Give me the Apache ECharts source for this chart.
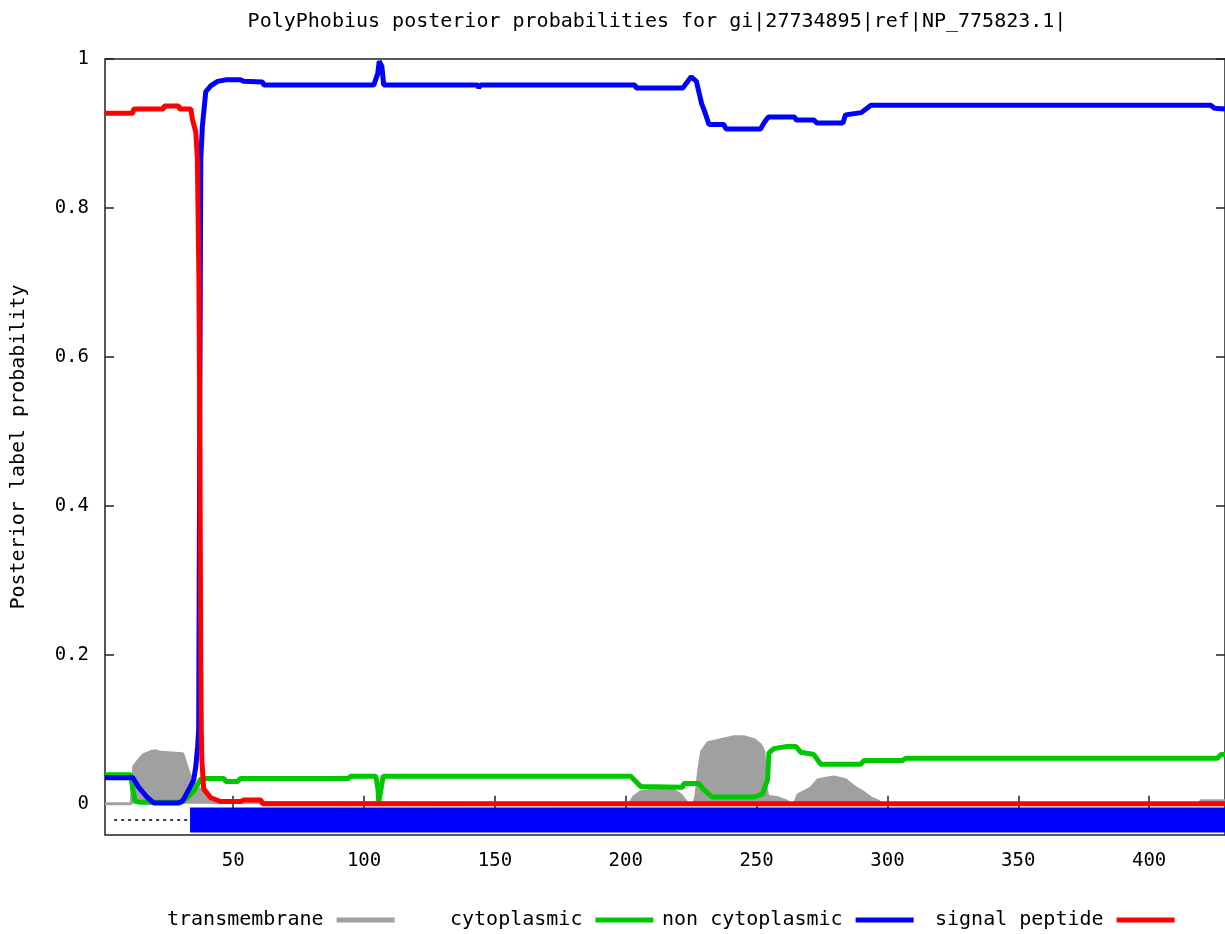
<!DOCTYPE html>
<html>
<head>
<meta charset="utf-8">
<script src="https://cdn.jsdelivr.net/npm/echarts@6/dist/echarts.min.js"></script>
<style>html,body{margin:0;padding:0;background:#fff;}#c{width:1225px;height:934px;}</style>
</head>
<body>
<div id="c"></div>
<script>
const titleText = 'PolyPhobius posterior probabilities for gi|27734895|ref|NP_775823.1|';
const seqMin = 1, seqMax = 429;
const xTicks = [50, 100, 150, 200, 250, 300, 350, 400];
const yTicks = [0, 0.2, 0.4, 0.6, 0.8, 1];
const legendNames = ['transmembrane', 'cytoplasmic', 'non cytoplasmic', 'signal peptide'];

const transmembrane = [[1,0],[11,0],[12,0.05],[13.9,0.059],[15.8,0.066],[18.5,0.07],[20.4,0.071],[22.3,0.069],[30.7,0.067],[31.8,0.055],[33,0.042],[34.5,0.03],[36.4,0.022],[39.5,0.012],[41.4,0.002],[42,0],
  [201,0],[202,0.003],[203,0.009],[205.7,0.016],[210,0.018],[218.4,0.018],[221,0.012],[223,0.003],[223.7,0],[226,0],[226.8,0.01],[227.9,0.045],[229,0.07],[231.4,0.082],[236.3,0.086],[241.3,0.09],[245.1,0.09],[249,0.086],[251.6,0.079],[252.8,0.07],[253.5,0.023],[254.3,0.01],[258,0.008],[261.9,0.003],[262.5,0],[264.5,0],[265.8,0.012],[270.7,0.021],[273.4,0.032],[276,0.034],[279.5,0.036],[282,0.034],[284.1,0.032],[287.2,0.023],[290.5,0.016],[293.6,0.008],[296.7,0.003],[297.5,0],[419.5,0],[419.8,0.004],[429,0.004]];

const cytoplasmic = [[1,0.039],[10.8,0.039],[11.6,0.02],[12.5,0.004],[14,0.002],[30,0.002],[31,0.004],[33,0.01],[34.9,0.017],[36.4,0.026],[37.6,0.033],[38.7,0.034],[46.4,0.034],[47.1,0.03],[51.7,0.03],[52.9,0.034],[94.1,0.034],[94.9,0.037],[104.5,0.037],[105.3,0.02],[105.6,0.003],[106.2,0.003],[106.5,0.02],[107.3,0.037],[201.9,0.037],[205.7,0.023],[221.7,0.022],[222.2,0.027],[227.9,0.027],[229.8,0.019],[233.1,0.009],[248.9,0.009],[252.2,0.013],[254.2,0.032],[254.7,0.068],[256.6,0.074],[261.8,0.077],[265,0.077],[266.9,0.069],[271.9,0.066],[274.5,0.053],[289.8,0.053],[291,0.058],[305.8,0.058],[307,0.061],[426.1,0.061],[427.4,0.066],[429,0.066]];

const nonCytoplasmic = [[1,0.035],[11.6,0.035],[13.9,0.022],[17.3,0.008],[19.6,0.001],[29.2,0.001],[30.7,0.004],[32.6,0.016],[34.9,0.032],[35.7,0.05],[36.4,0.077],[36.8,0.1],[37.2,0.5],[37.6,0.866],[38.2,0.909],[39.5,0.956],[41.4,0.964],[44,0.97],[47.1,0.972],[52.9,0.972],[54,0.97],[61.2,0.969],[61.7,0.965],[103.7,0.965],[105.2,0.98],[105.8,0.997],[106.8,0.99],[107.5,0.965],[143.5,0.965],[143.8,0.961],[144.5,0.965],[203.5,0.965],[204,0.961],[221.8,0.961],[225,0.976],[227,0.97],[228,0.955],[229,0.94],[230.3,0.928],[231.8,0.912],[237.5,0.912],[238.3,0.906],[251.5,0.906],[253,0.915],[254.5,0.922],[264.5,0.922],[265.2,0.918],[272,0.918],[273,0.914],[283,0.914],[284,0.925],[290,0.928],[293.7,0.938],[423.5,0.938],[425,0.934],[429,0.933]];

const signalPeptide = [[1,0.927],[11.6,0.927],[12,0.933],[23.4,0.933],[23.6,0.937],[29.2,0.937],[29.4,0.933],[33.8,0.933],[34.4,0.919],[35.7,0.902],[36.3,0.866],[36.9,0.7],[37.3,0.45],[37.6,0.2],[37.8,0.1],[38,0.06],[38.7,0.02],[41.4,0.008],[45.2,0.003],[52.9,0.003],[54,0.005],[60.5,0.005],[61.3,0],[429,0]];

const topologyBand = [[33.5,-0.022],[429,-0.022]];
const topologyDotted = [[4.5,-0.022],[33.5,-0.022]];

const FONT = 'DejaVu Sans Mono';
const chart = echarts.init(document.getElementById('c'), null, {renderer: 'canvas'});

function lineSeries(name, data, color, width, z, extra) {
  return Object.assign({
    name: name, type: 'line', data: data, color: color,
    showSymbol: false, symbol: 'none', clip: true, z: z,
    lineStyle: {color: color, width: width},
    animation: false
  }, extra || {});
}

const legendLefts = [162, 445, 657, 930];
const option = {
  backgroundColor: '#fff',
  animation: false,
  title: {
    text: titleText, left: 652, top: 7, textAlign: 'center',
    textStyle: {fontFamily: FONT, fontSize: 20, fontWeight: 'normal', color: '#000'}
  },
  legend: legendNames.map((n, i) => ({
    data: [n], left: legendLefts[i], top: 905, align: 'right', orient: 'horizontal',
    icon: 'rect', itemWidth: 58, itemHeight: 5, selectedMode: false,
    textStyle: {fontFamily: FONT, fontSize: 20, color: '#000', padding: [0, 8, 0, 0]}
  })),
  grid: {left: 105, top: 59, right: 0, bottom: 99, show: true, borderColor: '#222', borderWidth: 1.5, backgroundColor: 'transparent'},
  xAxis: [{
    type: 'value', min: seqMin, max: seqMax, position: 'bottom',
    axisLine: {show: false}, splitLine: {show: false},
    axisTick: {show: true, inside: true, length: 8, customValues: xTicks, lineStyle: {color: '#222', width: 1.5}},
    axisLabel: {show: true, customValues: xTicks, margin: 17, fontFamily: FONT, fontSize: 19, color: '#000'}
  }, {
    type: 'value', min: seqMin, max: seqMax, position: 'top',
    axisLine: {show: false}, splitLine: {show: false},
    axisTick: {show: true, inside: true, length: 8, customValues: xTicks, lineStyle: {color: '#222', width: 1.5}},
    axisLabel: {show: false}
  }],
  yAxis: [{
    type: 'value', min: -0.042, max: 1, position: 'left',
    name: 'Posterior label probability', nameLocation: 'middle', nameGap: 76, nameRotate: 90,
    nameTextStyle: {fontFamily: FONT, fontSize: 20, color: '#000'},
    axisLine: {show: false}, splitLine: {show: false},
    axisTick: {show: true, inside: true, length: 9, customValues: yTicks, lineStyle: {color: '#222', width: 1.5}},
    axisLabel: {show: true, customValues: yTicks, margin: 16, fontFamily: FONT, fontSize: 19, color: '#000',
      formatter: v => String(v)}
  }, {
    type: 'value', min: -0.042, max: 1, position: 'right',
    axisLine: {show: false}, splitLine: {show: false},
    axisTick: {show: true, inside: true, length: 9, customValues: yTicks, lineStyle: {color: '#222', width: 1.5}},
    axisLabel: {show: false}
  }],
  series: [
    lineSeries('transmembrane', transmembrane, '#a0a0a0', 3, 2, {areaStyle: {color: '#a0a0a0', opacity: 1, origin: 0}}),
    lineSeries('cytoplasmic', cytoplasmic, '#00c800', 5, 3),
    lineSeries('non cytoplasmic', nonCytoplasmic, '#0000ff', 5, 4),
    lineSeries('topology band', topologyBand, '#0000ff', 25, 4, {lineStyle: {color: '#0000ff', width: 25, cap: 'butt'}}),
    lineSeries('topology signal', topologyDotted, '#000', 1.5, 4, {lineStyle: {color: '#000', width: 1.5, type: [3, 4]}}),
    lineSeries('signal peptide', signalPeptide, '#ff0000', 5, 5)
  ]
};
chart.setOption(option);
</script>
</body>
</html>
